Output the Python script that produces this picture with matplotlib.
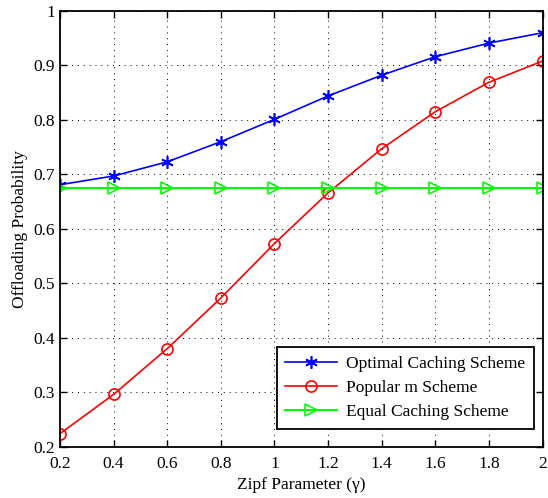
import matplotlib
matplotlib.use('Agg')
import matplotlib.pyplot as plt

# Données
gamma = [0.2, 0.4, 0.6, 0.8, 1.0, 1.2, 1.4, 1.6, 1.8, 2.0]
optimal = [0.681, 0.697, 0.723, 0.760, 0.801, 0.844, 0.882, 0.916, 0.941, 0.960]
popular = [0.224, 0.296, 0.380, 0.473, 0.573, 0.666, 0.747, 0.815, 0.869, 0.908]
equal = [0.675] * len(gamma)

xticks = [0.2, 0.4, 0.6, 0.8, 1, 1.2, 1.4, 1.6, 1.8, 2]
xticklabels = ['0.2', '0.4', '0.6', '0.8', '1', '1.2', '1.4', '1.6', '1.8', '2']
yticks = [0.2, 0.3, 0.4, 0.5, 0.6, 0.7, 0.8, 0.9, 1]
yticklabels = ['0.2', '0.3', '0.4', '0.5', '0.6', '0.7', '0.8', '0.9', '1']

plt.rcParams['font.family'] = ['Liberation Serif', 'DejaVu Serif']

fig = plt.figure(figsize=(5.48, 4.98), dpi=100)
ax = fig.add_axes([0.1095, 0.103, 0.8805, 0.875])

asterisk = (6, 2, 0)
ax.plot(gamma, optimal, color='#0000ff', marker=asterisk, markersize=9, lw=1.2,
        markeredgewidth=1.2, label='Optimal Caching Scheme')
ax.plot(gamma, popular, color='#ff0000', marker='o', markersize=8, lw=1.2,
        markerfacecolor='none', markeredgewidth=1.2, label='Popular m Scheme')
ax.plot(gamma, equal, color='#00ff00', marker='>', markersize=8, lw=1.5,
        markerfacecolor='none', markeredgewidth=1.2, label='Equal Caching Scheme')

ax.set_xlim(0.2, 2)
ax.set_ylim(0.2, 1)
ax.set_xticks(xticks)
ax.set_xticklabels(xticklabels)
ax.set_yticks(yticks)
ax.set_yticklabels(yticklabels)
ax.tick_params(direction='in', top=True, right=True, labelsize=12.5, length=5,
               width=1.0)
ax.tick_params(axis='x', pad=7)
ax.grid(True, color='black', linestyle=(0, (1, 5)), linewidth=0.7)
for s in ax.spines.values():
    s.set_linewidth(1.3)

ax.set_xlabel('Zipf Parameter (γ)', fontsize=12.5, labelpad=3)
ax.set_ylabel('Offloading Probability', fontsize=12.5, labelpad=4)

leg = ax.legend(loc='lower right', bbox_to_anchor=(0.982, 0.041), fontsize=12.5,
                fancybox=False, edgecolor='black', framealpha=1,
                handlelength=3.0, handletextpad=0.5, borderpad=0.5,
                labelspacing=0.45, borderaxespad=0)
leg.get_frame().set_linewidth(1.3)

fig.savefig('out.png', dpi=100)
